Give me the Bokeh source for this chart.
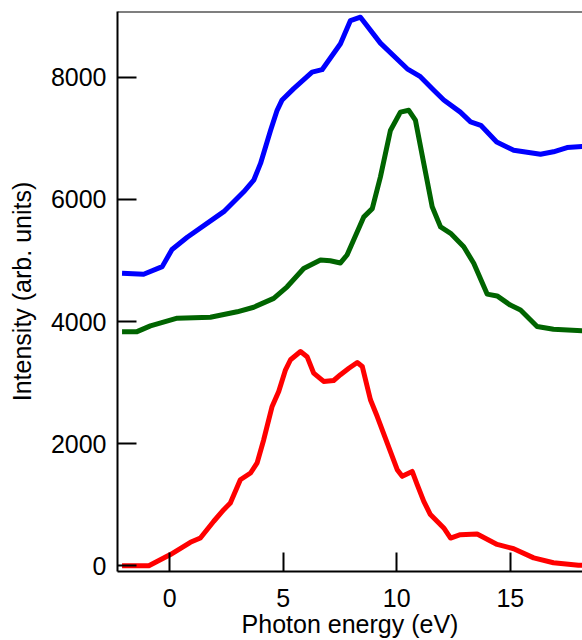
from bokeh.plotting import figure
from bokeh.models import Range1d, Span, FixedTicker
from bokeh.embed import file_html
from bokeh.resources import INLINE

blue_e = [-2.1, -1.15, -0.33, 0.1, 0.77, 2.38, 3.26, 3.7, 4.0, 4.22, 4.44, 4.73, 4.95, 5.46, 6.27, 6.71, 7.52,
          7.96, 8.4, 9.28, 10.46, 11.04, 11.63, 12.07, 12.8, 13.25, 13.7, 14.4, 15.15, 16.33, 16.9, 17.5, 18.2]
blue_i = [4790, 4775, 4900, 5180, 5380, 5800, 6125, 6315, 6590, 6860, 7130, 7460, 7630, 7815, 8085, 8125, 8550,
          8930, 8985, 8560, 8140, 8010, 7790, 7630, 7430, 7270, 7215, 6940, 6805, 6740, 6780, 6850, 6870]

green_e = [-2.1, -1.44, -0.85, 0.33, 1.79, 2.97, 3.7, 4.58, 5.17, 5.9, 6.64, 7.07, 7.52, 7.81, 8.55,
           8.92, 9.28, 9.72, 10.16, 10.53, 10.82, 11.19, 11.56, 11.93, 12.37, 12.95, 13.39, 13.98,
           14.42, 15.0, 15.45, 16.18, 16.9, 18.2]
green_i = [3835, 3835, 3930, 4055, 4070, 4160, 4235, 4380, 4570, 4870, 5010, 4995, 4960, 5090, 5715,
           5850, 6370, 7130, 7430, 7460, 7300, 6590, 5880, 5550, 5445, 5225, 4955, 4450,
           4420, 4270, 4190, 3920, 3875, 3850]

red_e = [-2.1, -0.92, 0.03, 0.91, 1.35, 1.94, 2.38, 2.67, 3.11, 3.56, 3.85, 4.14, 4.51, 4.8, 5.1,
         5.32, 5.76, 6.05, 6.34, 6.78, 7.22, 7.52, 7.89, 8.26, 8.48, 8.84, 9.14, 9.58, 10.02, 10.24,
         10.68, 10.9, 11.19, 11.48, 12.07, 12.37, 12.8, 13.54, 14.42, 15.15, 16.03, 16.9, 18.0, 18.2]
red_i = [0, 0, 185, 385, 455, 730, 920, 1030, 1410, 1520, 1685, 2065, 2610, 2855, 3210,
         3375, 3510, 3425, 3155, 3020, 3035, 3130, 3235, 3330, 3265, 2720, 2445, 2010, 1575, 1465,
         1545, 1330, 1055, 840, 620, 455, 510, 520, 350, 280, 130, 50, 10, 10]

x_ticks = [0, 5, 10, 15]
y_ticks = [0, 2000, 4000, 6000, 8000]

X_MIN, X_MAX = -2.3, 18.18
Y_MIN, Y_MAX = -93, 9078

W, H = 582, 640
B_LEFT, B_TOP, B_BOTTOM = 117, 11, 68
TICK_PX = 19

FONT = "Liberation Sans"
FS = "25px"

p = figure(width=W, height=H, output_backend="svg", toolbar_location=None,
           x_range=Range1d(X_MIN, X_MAX), y_range=Range1d(Y_MIN, Y_MAX),
           min_border_left=B_LEFT, min_border_right=0, min_border_top=B_TOP, min_border_bottom=B_BOTTOM)
p.grid.visible = False
p.outline_line_color = None
p.background_fill_color = "white"
p.border_fill_color = "white"

for ax in (p.xaxis[0], p.yaxis[0]):
    ax.axis_line_width = 2
    ax.axis_line_color = "black"
    ax.major_tick_line_color = "black"
    ax.major_tick_line_width = 2
    ax.major_tick_in = TICK_PX
    ax.major_tick_out = 0
    ax.minor_tick_line_color = None
    ax.major_label_text_font = FONT
    ax.major_label_text_font_size = FS
    ax.major_label_text_color = "black"
    ax.axis_label_text_font = FONT
    ax.axis_label_text_font_size = FS
    ax.axis_label_text_font_style = "normal"
    ax.axis_label_text_color = "black"

p.xaxis.ticker = FixedTicker(ticks=x_ticks)
p.yaxis.ticker = FixedTicker(ticks=y_ticks)
p.xaxis.axis_label = "Photon energy (eV)"
p.yaxis.axis_label = "Intensity (arb. units)"
p.xaxis.major_label_standoff = 17
p.xaxis.axis_label_standoff = 0
p.yaxis.major_label_standoff = 11
p.yaxis.axis_label_standoff = 12

p.add_layout(Span(location=Y_MAX, dimension="width", line_color="black", line_width=2))

p.line(blue_e, blue_i, line_color="#0000ff", line_width=5, line_join="round")
p.line(green_e, green_i, line_color="#006400", line_width=5, line_join="round")
p.line(red_e, red_i, line_color="#ff0000", line_width=5, line_join="round")

open("out.html", "w").write(file_html(p, INLINE))
